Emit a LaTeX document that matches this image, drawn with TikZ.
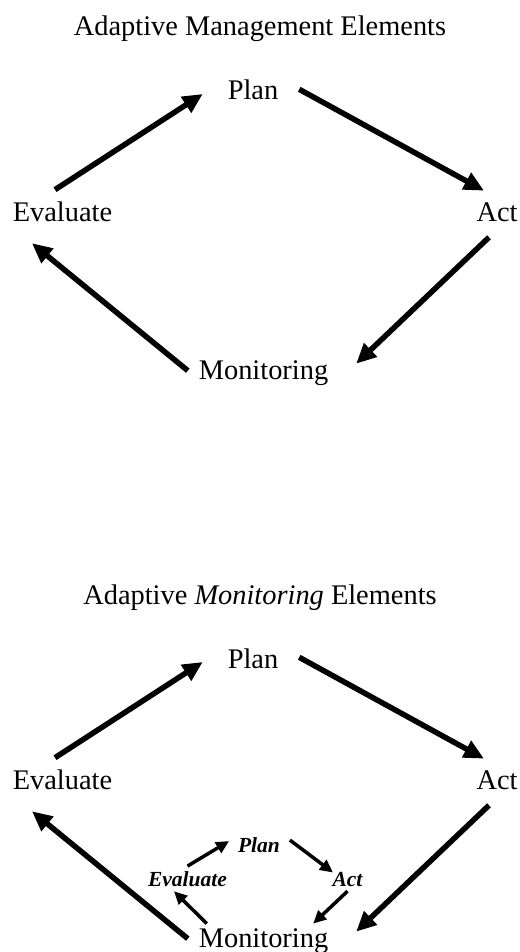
\documentclass[tikz,border=0pt]{standalone}
\usepackage{fontspec}
\setmainfont{Liberation Serif}
\usetikzlibrary{arrows.meta, positioning}

\tikzset{
  lbl/.style={font=\fontsize{28.4}{34}\selectfont, inner sep=0pt, outer sep=0pt, anchor=base},
  sublbl/.style={font=\fontsize{21.5}{26}\selectfont\bfseries\itshape, inner sep=0pt, outer sep=0pt, anchor=base},
  bigarrow/.style={line width=5.5pt, -{Triangle[length=20pt,width=18pt]}},
  smallarrow/.style={line width=3.5pt, -{Triangle[length=13pt,width=12pt]}}
}

\begin{document}
\begin{tikzpicture}[x=1pt, y=-1pt]
\useasboundingbox (0,0) rectangle (519,952);
% outer cycle, once per panel
\foreach \dy/\p/\ttl in {0/a/{Adaptive Management Elements}, 568/b/{Adaptive \textit{Monitoring} Elements}} {
    \node[lbl] (title\p) at (260,36+\dy) {\ttl};
    \node[lbl] (plan\p) at (253,100+\dy) {Plan};
    \node[lbl] (eval\p) at (62.5,221+\dy) {Evaluate};
    \node[lbl] (act\p) at (497,221+\dy) {Act};
    \node[lbl] (mon\p) at (263.5,379+\dy) {Monitoring};
    \draw[bigarrow] ([shift={(-7.5,-11.6)}]eval\p.north) -- ([shift={(-25,3.7)}]plan\p.west);
    \draw[bigarrow] ([shift={(21,-1)}]plan\p.east) -- ([shift={(-13,-11.6)}]act\p.north);
    \draw[bigarrow] ([shift={(-8,16)}]act\p.south) -- ([shift={(28,-9)}]mon\p.east);
    \draw[bigarrow] ([shift={(-11,-2)}]mon\p.west) -- ([shift={(-30.5,22)}]eval\p.south);
}
% inner cycle inside the monitoring step
\node[sublbl] (splan) at (259,852) {Plan};
\node[sublbl] (seval) at (187.5,886) {Evaluate};
\node[sublbl] (sact) at (347.5,886) {Act};
\draw[smallarrow] ([shift={(0,-5)}]seval.north) -- ([shift={(-9,-3.6)}]splan.west);
\draw[smallarrow] ([shift={(10,-4.6)}]splan.east) -- ([shift={(-14.5,0.7)}]sact.north);
\draw[smallarrow] ([shift={(0,5)}]sact.south) -- ([shift={(-15,-4.6)}]monb.north east);
\draw[smallarrow] ([shift={(8,-4.6)}]monb.north west) -- ([shift={(-13.5,5)}]seval.south);
\end{tikzpicture}
\end{document}
